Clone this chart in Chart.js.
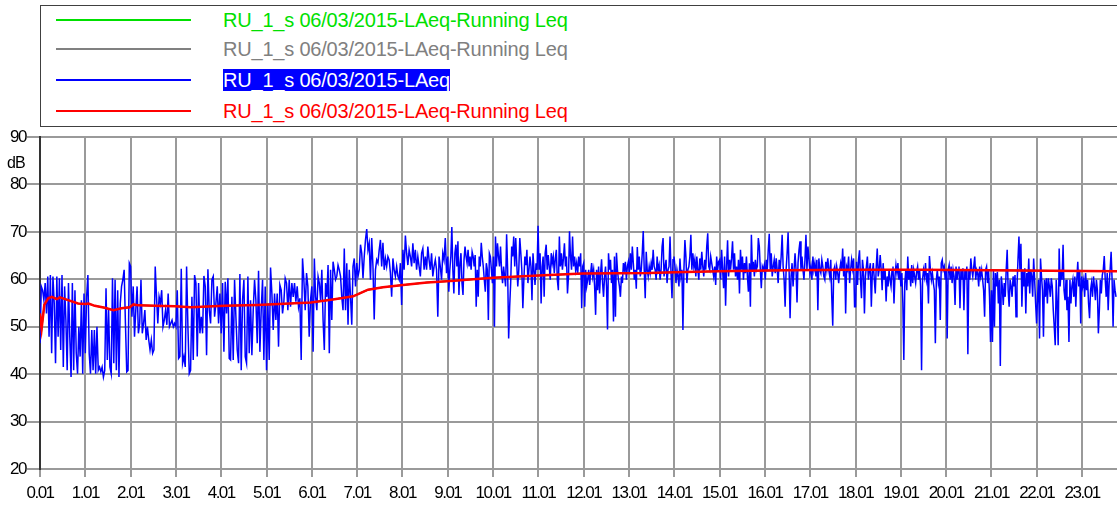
<!DOCTYPE html>
<html>
<head>
<meta charset="utf-8">
<script src="https://cdn.jsdelivr.net/npm/chart.js@4.4.1/dist/chart.umd.min.js"></script>
<style>
    html, body { margin: 0; padding: 0; background: #fff; }
    #wrap { position: relative; width: 1117px; height: 506px; overflow: hidden; font-family: "Liberation Sans", Arial, sans-serif; }
    #chart { position: absolute; left: 0; top: 0; }
    #legend { position: absolute; left: 40px; top: 5px; width: 1100px; height: 122px; border: 1px solid #404040; box-sizing: border-box; background: #fff; }
    .lg-line { position: absolute; left: 15px; width: 135px; height: 2px; }
    .lg-text { position: absolute; left: 182px; font-size: 20px; line-height: 22px; white-space: nowrap; letter-spacing: -0.2px; }
    #unit { position: absolute; left: 7px; top: 154px; font-size: 16px; letter-spacing: -1px; color: #000; }
</style>
</head>
<body>
<div id="wrap">
    <canvas id="chart" width="1117" height="506"></canvas>
    <div id="legend"></div>
    <div id="unit">dB</div>
</div>
<script>
// -------------------------------
// DATA (hours after 00:01, dB)
// -------------------------------
const seriesLabel = "RU_1_s 06/03/2015-LAeq";
const runningLabel = "RU_1_s 06/03/2015-LAeq-Running Leq";

// LAeq samples, one list per 3 hour block
const blue00 = [46.5,58.5,57.7,55.6,59.2,52.8,60.6,47.9,60.9,44.4,60.6,54.9,42.3,60.6,47.9,60.2,45.1,60.9,41.5,58.5,51.4,40.8,59.2,47.9,39.4,59.2,40.8,57.7,44.4,40.1,50.0,43.7,55.6,40.1,57.0,44.4,56.3,60.9,44.4,40.1,49.3,40.8,49.3,40.1,50.0,40.8,41.5,40.5,41.5,39.4,40.8,58.1,43.0,53.5,41.5,40.1,60.2,42.3,59.9,40.8,57.7,39.4,54.9,58.5,59.9,62.0,50.7,40.5,40.8,63.4,62.7,52.1,58.5,47.9,53.5,58.5,48.6,50.7,59.9,48.6,50.7,53.5,47.2,50.0,47.2,45.1,47.2,44.4,45.1,62.7,56.3,50.7,56.3,54.9,57.7,50.0,51.4,53.5,50.4,57.0,50.0,50.7,51.4,50.0,50.7];
const blue03 = [50.0,57.7,43.3,43.7,62.2,42.3,43.7,41.5,62.7,50.0,40.1,40.8,56.3,43.0,60.9,59.2,43.7,59.2,48.6,52.1,48.6,60.7,58.5,44.0,62.1,53.5,50.7,59.9,60.6,52.1,54.9,58.5,50.7,57.0,48.6,59.2,44.7,59.5,52.8,60.2,43.3,43.0,56.3,43.0,59.9,52.1,45.1,42.3,61.1,40.8,55.6,59.9,43.7,42.3,60.6,44.4,55.6,44.0,53.5,59.9,55.6,46.5,61.8,44.7,53.5,59.9,43.0,58.5,40.8,54.9,43.0,62.5,57.0,49.3,57.0,51.4,57.0,45.8,58.8,57.7,52.8,55.3,60.2,59.2,53.5,59.9,54.2,59.2,56.3,59.2,55.3,58.5,54.2,56.0,43.0,64.4,59.9,53.5,61.3,58.5,47.9,55.6];
const blue06 = [58.5,44.7,64.4,56.3,53.5,60.6,59.2,55.6,62.0,51.4,45.1,59.2,56.3,63.0,44.4,62.0,51.4,63.7,62.0,59.9,60.6,63.0,62.0,60.6,56.3,53.5,66.5,53.5,63.4,50.4,62.0,56.3,50.4,62.7,64.4,58.5,63.4,60.6,62.0,67.3,65.5,60.2,64.8,68.3,70.6,66.2,67.6,59.9,68.7,62.7,51.5,62.0,64.1,63.4,66.2,68.3,62.7,67.7,62.0,64.4,62.7,64.8,64.1,61.3,56.3,64.4,62.0,60.6,62.7,60.6,59.9,63.4,54.6,66.2,62.0,69.2,65.5,63.0,66.2,64.8,62.7,67.6,63.4,66.2,62.0,64.8,62.7,60.6,65.5,66.5,62.0,64.8,62.0,66.9,64.1,62.0,65.5,60.6,62.7,64.1,62.0,52.1,64.8,62.7,59.9,65.5,64.1,68.7,61.3];
const blue09 = [64.8,57.4,62.0,64.8,71.0,62.0,57.0,65.5,67.3,62.7,68.0,56.7,63.4,65.5,59.2,56.7,64.1,66.9,64.8,63.4,66.2,62.7,64.8,62.0,65.8,64.8,62.7,65.1,54.2,62.0,56.3,64.8,62.7,67.7,64.8,62.7,59.9,57.4,63.4,62.0,51.4,65.5,64.8,62.0,59.2,64.8,50.0,69.0,62.7,67.6,64.8,62.7,66.9,62.0,59.2,62.7,60.6,58.5,69.5,62.0,47.5,54.2,59.2,66.9,64.8,69.0,62.7,68.7,63.4,58.5,62.0,68.7,65.5,62.0,53.9,59.9,64.8,63.0,66.2,59.2,62.0,64.8,62.7,55.6,65.5,62.0,58.8,63.4,62.0,71.3,62.0,65.5,54.9,62.7,64.8,56.3,65.5,67.3,62.0,65.1,62.7,59.9,65.5,63.4,64.8,61.3,64.4,66.2,59.9,57.7,69.0,62.7,65.5,62.0,64.4,67.6,62.7,64.8,57.0,60.6,70.1,64.8,62.0,69.0,62.7,64.8,62.0,63.4,60.9,64.8,62.7,65.5,53.9,62.7];
const blue12 = [63.4,54.2,62.0,58.5,59.9,62.0,58.8,61.3,63.4,60.6,62.0,58.5,52.5,62.0,57.7,62.7,57.0,61.3,64.2,59.2,56.3,60.6,62.7,58.5,49.4,65.5,62.0,64.1,59.2,62.0,51.1,64.8,52.1,65.6,62.0,59.9,58.5,56.3,60.6,59.2,63.4,62.0,63.7,59.9,62.7,63.7,61.3,65.5,62.0,66.9,63.4,59.9,62.0,58.0,66.8,62.0,64.8,60.6,62.0,65.5,70.2,62.0,56.0,65.8,62.0,60.6,62.7,61.3,63.4,62.0,66.2,62.7,62.0,59.9,64.8,62.0,63.0,59.9,62.0,66.9,68.7,60.6,62.7,64.1,59.2,62.0,62.7,69.0,61.3,56.0,64.1,64.8,62.7,59.2,62.0,60.6,58.5,64.4,60.6,62.0,49.3,62.0,68.3,64.8,59.2,62.0,62.7,64.8,69.4,62.0,65.5,62.7,64.1,60.6,64.8,62.0,59.9,64.4,62.0,65.8,62.7,60.6,64.1,62.0,66.9,69.7,62.7,62.0,64.8,63.4,62.0,60.6,62.7,58.8,64.8,62.0,63.7];
const blue15 = [64.1,59.9,66.2,62.0,58.1,64.8,54.4,62.7,68.2,60.6,64.1,62.0,64.4,68.0,62.0,65.5,60.6,62.7,59.9,64.1,57.0,66.2,62.0,64.8,59.9,63.4,61.3,64.8,60.6,57.4,63.4,54.2,69.4,62.0,63.7,60.6,64.1,62.0,62.7,68.7,66.9,62.0,58.1,62.7,62.0,63.0,59.9,64.1,62.0,66.2,69.6,62.0,65.5,60.6,62.7,64.1,61.3,64.4,62.0,59.2,64.1,62.0,64.8,69.4,62.7,59.9,54.2,62.0,65.5,69.9,62.0,51.8,60.6,63.4,58.5,62.0,65.5,62.0,55.1,63.4,66.2,68.0,62.0,64.8,62.0,59.9,64.1,69.4,62.0,66.9,64.4,61.3,62.7,59.9,64.8,62.0,63.4,60.6,64.1,53.5,64.4,62.0,61.3,64.1,62.7,60.6,59.9,63.7,62.0,64.4,62.0,60.6,64.1,56.3,50.2,62.0,62.7,59.9,62.7,61.3,59.2,62.0,63.4,62.0,66.5,60.6,64.8,52.8,62.7,62.0,64.8,59.2,62.0,64.1,62.3,64.4,54.2];
const blue18 = [54.2,63.7,58.8,64.1,66.1,59.9,56.0,64.1,62.0,52.8,60.6,62.7,64.8,59.9,62.0,63.4,54.2,61.3,63.4,59.9,57.0,62.7,66.5,60.6,62.0,65.1,62.0,57.7,63.4,59.9,62.0,55.3,60.6,58.5,62.0,59.9,58.5,62.0,62.7,54.9,60.6,63.0,61.3,63.4,59.9,62.0,58.5,61.3,54.9,43.0,59.2,62.0,57.7,64.8,59.9,62.0,58.5,63.0,59.2,62.0,60.6,59.2,61.6,62.7,59.9,62.0,58.5,40.8,59.9,62.0,60.6,63.4,59.9,61.3,54.9,64.9,62.0,59.9,61.3,59.2,57.7,46.5,59.9,62.0,59.2,60.6,51.4,63.4,64.1,62.0,62.7,59.9,62.0,47.5,62.0,63.0,59.9,62.7,59.2,62.0,60.6,54.6,62.7,59.9,62.0,62.7,53.9,62.0,59.9,62.3,53.5,62.0,59.9,62.7,44.2,62.0,59.9,64.4,62.0,60.6,62.7,64.8,59.9,62.0,61.3,58.5,62.7,60.6,62.0,59.9,57.7,52.1,62.0,62.7,59.2,62.0,56.3,46.8];
const blue21 = [57.7,46.8,62.0,50.0,61.3,58.5,61.6,54.9,59.9,41.7,60.6,58.5,54.6,59.2,56.3,62.0,66.2,57.7,54.2,59.9,58.5,56.3,60.6,58.5,60.9,52.1,58.5,64.1,69.0,62.0,67.5,54.2,62.0,58.5,62.3,52.8,61.3,58.5,64.4,57.0,62.0,60.6,56.3,64.4,59.9,54.9,50.7,56.3,59.9,47.5,64.4,60.6,57.7,47.9,59.9,56.3,60.2,54.9,60.2,58.5,56.3,60.2,58.5,53.5,50.0,46.1,59.9,54.9,46.1,66.5,58.5,62.0,59.9,67.3,57.7,55.6,59.9,53.5,56.3,46.8,59.9,54.9,58.5,59.9,56.3,60.6,54.2,59.9,63.7,58.5,62.0,50.7,60.6,58.5,59.9,56.3,61.3,57.7,59.9,54.9,51.8,57.7,59.2,56.3,60.6,58.5,55.6,59.9,57.7,48.6,53.5,59.9,57.0,60.9,62.0,64.9,59.9,56.3,61.3,53.5,59.2,62.0,65.8,59.9,50.0,59.9,57.7,56.3];

const blueBlocks = [blue00, blue03, blue06, blue09, blue12, blue15, blue18, blue21];
const blockStart = [0, 3, 6, 9, 12, 15, 18, 21];
const blockSpan  = [3, 3, 3, 3, 3, 3, 3, 2.77];

// Running Leq
const runHours  = [0, 0.036, 0.095, 0.18, 0.26, 0.37, 0.44, 0.62, 0.84, 0.99, 1.07, 1.21, 1.43, 1.62, 1.80, 1.98, 2.06, 2.17, 2.54, 2.98, 3.33, 4.07, 4.80, 5.98, 6.50, 6.91, 7.07, 7.24, 7.57, 8.01, 8.54, 8.98, 10.0, 11.0, 11.98, 13.44, 14.0, 14.98, 16.46, 17.99, 19.42, 20.96, 22.29, 23.77];
const runLevels = [52.8, 49.6, 54.6, 56.0, 56.3, 55.8, 56.2, 55.6, 54.9, 54.8, 54.9, 54.4, 54.0, 53.5, 53.9, 54.1, 54.7, 54.5, 54.4, 54.3, 54.1, 54.4, 54.6, 55.1, 55.8, 56.4, 57.1, 57.8, 58.3, 58.8, 59.3, 59.6, 60.3, 60.8, 61.2, 61.3, 61.5, 61.7, 61.9, 62.0, 62.0, 61.9, 61.8, 61.7];

// x ticks: hour marks, shown as "h.01"
const hourTicks = [0, 1, 2, 3, 4, 5, 6, 7, 8, 9, 10, 11, 12, 13, 14, 15, 16, 17, 18, 19, 20, 21, 22, 23];
const hourMax = 23.77;


// -------------------------------
// BUILD POINTS
// -------------------------------
const bluePoints = [];
blueBlocks.forEach((block, k) => {
    block.forEach((v, i) => {
        bluePoints.push({ x: blockStart[k] + i * blockSpan[k] / block.length, y: v });
    });
});
const runPoints = runHours.map((h, i) => ({ x: h, y: runLevels[i] }));

const gridColor = "#9a9a9a";
const tickFont = { family: "Liberation Sans, Arial, sans-serif", size: 17 };
const legendColors = ["#00e000", "#808080", "#0000ff", "#ff0000"];

// tighter tick text like the original
const tightText = {
    id: "tightText",
    beforeDraw(chart) { chart.ctx.letterSpacing = "-1.5px"; }
};

const chart = new Chart(document.getElementById("chart"), {
    type: "line",
    data: {
        datasets: [
            { label: runningLabel, data: runPoints, borderColor: legendColors[0], borderWidth: 1.5, pointRadius: 0, order: 3 },
            { label: runningLabel, data: runPoints, borderColor: legendColors[1], borderWidth: 1.5, pointRadius: 0, order: 2 },
            { label: seriesLabel,  data: bluePoints, borderColor: legendColors[2], borderWidth: 1.5, pointRadius: 0, order: 1 },
            { label: runningLabel, data: runPoints, borderColor: legendColors[3], borderWidth: 2.5, pointRadius: 0, order: 0 }
        ]
    },
    options: {
        responsive: false,
        animation: false,
        layout: { padding: { top: 137, right: 0, left: 0, bottom: 0 } },
        plugins: { legend: { display: false }, tooltip: { enabled: false } },
        scales: {
            x: {
                type: "linear",
                min: 0,
                max: hourMax,
                afterFit: s => { s.height = 37; },
                afterBuildTicks: s => { s.ticks = hourTicks.map(v => ({ value: v })); },
                grid: { color: gridColor, lineWidth: 2, tickLength: 8 },
                border: { color: gridColor, width: 2 },
                ticks: {
                    autoSkip: false,
                    maxRotation: 0,
                    padding: 6,
                    color: "#000",
                    font: tickFont,
                    callback: v => v + ".01"
                }
            },
            y: {
                min: 20,
                max: 90,
                afterFit: s => { s.width = 40; },
                grid: { color: gridColor, lineWidth: 2, tickLength: 13 },
                border: { color: "#333", width: 2 },
                ticks: { stepSize: 10, padding: 1, color: "#000", font: tickFont }
            }
        }
    },
    plugins: [tightText]
});


// -------------------------------
// LEGEND BOX
// -------------------------------
const legendEl = document.getElementById("legend");
const rowTops = [13, 42, 73, 104];

chart.data.datasets.forEach((ds, i) => {
    const line = document.createElement("div");
    line.className = "lg-line";
    line.style.top = rowTops[i] + "px";
    line.style.backgroundColor = legendColors[i];
    legendEl.appendChild(line);

    const txt = document.createElement("div");
    txt.className = "lg-text";
    txt.textContent = ds.label;
    txt.style.top = (rowTops[i] - 10) + "px";
    if (i === 2) {
        txt.style.background = "#0000ff";
        txt.style.color = "#fff";
    } else {
        txt.style.color = legendColors[i];
    }
    legendEl.appendChild(txt);
});
</script>
</body>
</html>
